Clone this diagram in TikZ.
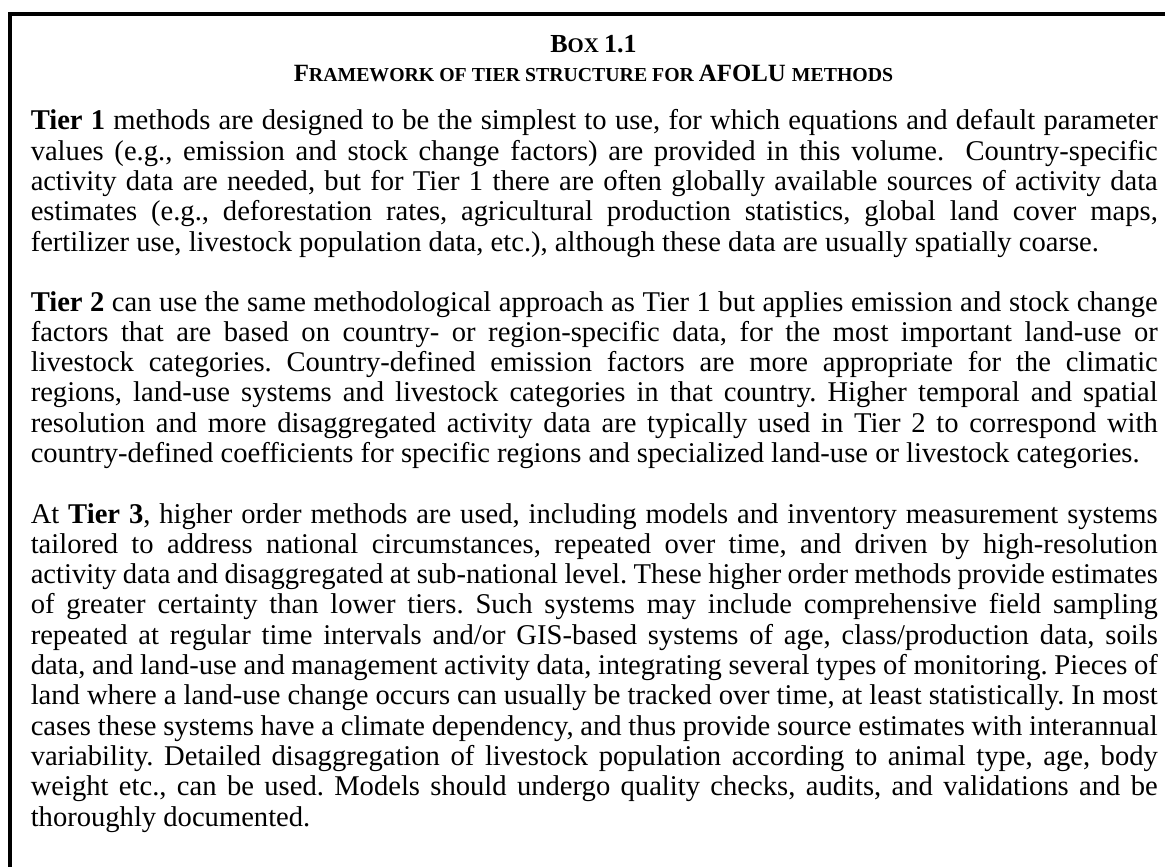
\documentclass[tikz,border=0pt]{standalone}
\usepackage{fontspec}
\setmainfont{Liberation Serif}

\newcommand{\bodyfont}{\fontsize{14.3}{15.15}\selectfont\frenchspacing\hyphenpenalty=10000\exhyphenpenalty=10000}
\newcommand{\hdbig}{\fontsize{12.4}{14}\selectfont}
\newcommand{\hdsmall}{\fontsize{9.9}{14}\selectfont}

\tikzset{every picture/.style={line width=0.75pt}}
\tikzset{
  para/.style={anchor=base west, inner sep=0pt, text width=563.5pt, align=justify, font=\bodyfont},
  head/.style={anchor=base, inner sep=0pt, font=\bfseries},
  frame/.style={line width=2pt}
}

\begin{document}
\begin{tikzpicture}[x=0.5pt,y=0.5pt,yscale=-1]
\useasboundingbox (0,0) rectangle (1165,866);
\clip (0,0) rectangle (1165,866);

%Shape: Rectangle [frame, runs off the right and bottom]
\draw [frame] (10,14) rectangle (1200,900);

% Text Node
\node (boxno) [head] at (593.5,53) {{\fontsize{13}{14}\selectfont B\fontsize{10.4}{14}\selectfont OX \fontsize{13}{14}\selectfont 1.1}};
% Text Node
\node (boxtitle) [head] at (593.5,82) {\hdbig F\hdsmall RAMEWORK OF TIER STRUCTURE FOR \hdbig AFOLU \hdsmall METHODS};

% Text Node
\node (tierone) [para] at (30,130) {\textbf{Tier 1} methods are designed to be the simplest to use, for which equations and default parameter\linebreak
values (e.g., emission and stock change factors) are provided in this volume.\ \ Country-specific\linebreak
activity data are needed, but for Tier 1 there are often globally available sources of activity data\linebreak
estimates (e.g., deforestation rates, agricultural production statistics, global land cover maps,\linebreak
fertilizer use, livestock population data, etc.), although these data are usually spatially coarse.};

% Text Node
\node (tiertwo) [para] at (30,311) {\textbf{Tier 2} can use the same methodological approach as Tier 1 but applies emission and stock change\linebreak
factors that are based on country- or region-specific data, for the most important land-use or\linebreak
livestock categories. Country-defined emission factors are more appropriate for the climatic\linebreak
regions, land-use systems and livestock categories in that country. Higher temporal and spatial\linebreak
resolution and more disaggregated activity data are typically used in Tier 2 to correspond with\linebreak
country-defined coefficients for specific regions and specialized land-use or livestock categories.};

% Text Node
\node (tierthree) [para] at (30,523) {At \textbf{Tier 3}, higher order methods are used, including models and inventory measurement systems\linebreak
tailored to address national circumstances, repeated over time, and driven by high-resolution\linebreak
activity data and disaggregated at sub-national level. These higher order methods provide estimates\linebreak
of greater certainty than lower tiers. Such systems may include comprehensive field sampling\linebreak
repeated at regular time intervals and/or GIS-based systems of age, class/production data, soils\linebreak
data, and land-use and management activity data, integrating several types of monitoring. Pieces of\linebreak
land where a land-use change occurs can usually be tracked over time, at least statistically. In most\linebreak
cases these systems have a climate dependency, and thus provide source estimates with interannual\linebreak
variability. Detailed disaggregation of livestock population according to animal type, age, body\linebreak
weight etc., can be used. Models should undergo quality checks, audits, and validations and be\linebreak
thoroughly documented.};

\end{tikzpicture}
\end{document}
